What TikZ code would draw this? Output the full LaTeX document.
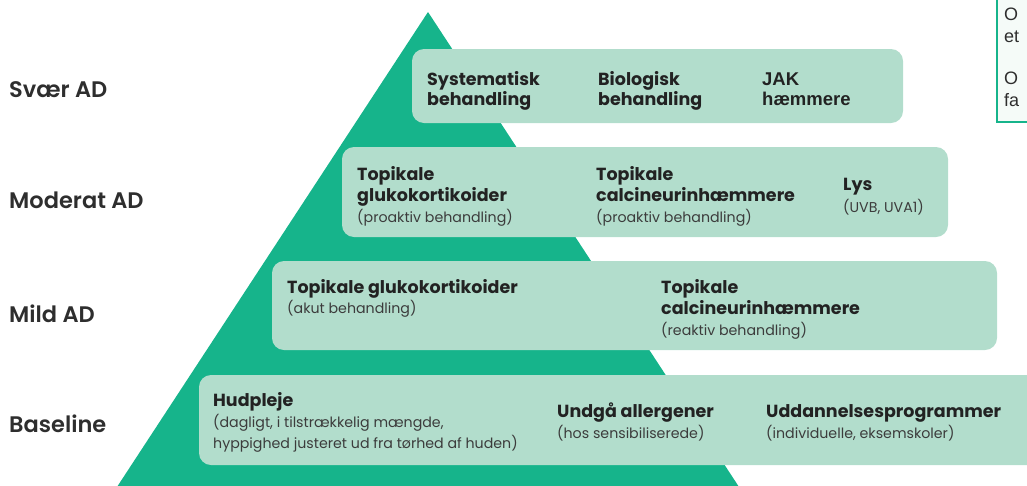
\documentclass[tikz,border=0pt]{standalone}
\usepackage{fontspec}
\setmainfont{Poppins}
\newfontfamily\arialfont{Liberation Sans}
\IfFontExistsTF{Poppins SemiBold}{\newfontfamily\labfont{Poppins SemiBold}}{\newcommand\labfont{\bfseries}}
\definecolor{tri}{HTML}{16B48B}
\definecolor{boxc}{HTML}{B2DDCC}
\definecolor{ink}{HTML}{222222}
\definecolor{subink}{HTML}{3C3C3C}
\definecolor{labink}{HTML}{2E2E2E}
\definecolor{noteb}{HTML}{F5FBF8}
\begin{document}
\begin{tikzpicture}[x=1pt,y=-1pt,
  tier/.style={fill=boxc, rounded corners=12pt},
  item/.style={anchor=base west, inner sep=0pt, text=ink, font=\fontsize{17.5}{21}\selectfont\bfseries},
  jak/.style={anchor=base west, inner sep=0pt, text=ink, font=\fontsize{18.5}{21}\selectfont\arialfont\bfseries},
  sub/.style={anchor=base west, inner sep=0pt, text=subink, font=\fontsize{14.2}{20}\selectfont},
  lvl/.style={anchor=base west, inner sep=0pt, text=labink, font=\fontsize{22.5}{26}\selectfont\labfont},
  notetext/.style={anchor=base west, inner sep=0pt, text=labink, font=\fontsize{18}{21}\selectfont\arialfont},
]
\useasboundingbox (0,0) rectangle (1027,485);

% pyramid
\fill[tri] (428,12) -- (741,490) -- (115,490) -- cycle;

% tiers
\path[tier] (412,49) rectangle (903,123);
\path[tier] (342,147) rectangle (948,237);
\path[tier] (272,261) rectangle (997,350);
\path[tier] (199,375) rectangle (1060,465);

% level labels
\node[lvl] (lsev) at (9,97) {Svær AD};
\node[lvl] (lmod) at (9,208) {Moderat AD};
\node[lvl] (lmil) at (9,322) {Mild AD};
\node[lvl] (lbas) at (9,432) {Baseline};

% severe
\node[item] (s1a) at (427,85) {Systematisk};
\node[item] (s1b) at (427,105) {behandling};
\node[item] (s2a) at (598,85) {Biologisk};
\node[item] (s2b) at (598,105) {behandling};
\node[jak] (s3a) at (762,85) {JAK};
\node[jak] (s3b) at (762,105) {hæmmere};

% moderate
\node[item] (m1a) at (357,180) {Topikale};
\node[item] (m1b) at (357,201) {glukokortikoider};
\node[sub]  (m1c) at (357,222) {(proaktiv behandling)};
\node[item] (m2a) at (596,180) {Topikale};
\node[item] (m2b) at (596,201) {calcineurinhæmmere};
\node[sub]  (m2c) at (596,222) {(proaktiv behandling)};
\node[item] (m3a) at (843,190) {Lys};
\node[sub]  (m3b) at (843,212) {(UVB, UVA1)};

% mild
\node[item] (d1a) at (287,293) {Topikale glukokortikoider};
\node[sub]  (d1b) at (287,313) {(akut behandling)};
\node[item] (d2a) at (661,293) {Topikale};
\node[item] (d2b) at (661,314) {calcineurinhæmmere};
\node[sub]  (d2c) at (661,335) {(reaktiv behandling)};

% baseline
\node[item] (b1a) at (213,406) {Hudpleje};
\node[sub]  (b1b) at (213,427) {(dagligt, i tilstrækkelig mængde,};
\node[sub]  (b1c) at (213,448) {hyppighed justeret ud fra tørhed af huden)};
\node[item] (b2a) at (557,417) {Undgå allergener};
\node[sub]  (b2b) at (557,438) {(hos sensibiliserede)};
\node[item] (b3a) at (766,417) {Uddannelsesprogrammer};
\node[sub]  (b3b) at (766,438) {(individuelle, eksemskoler)};

% note box (cut off at the right edge)
\draw[draw=tri, line width=2pt, fill=noteb] (997,-5) rectangle (1060,122);
\node[notetext] (n1) at (1004,20) {O};
\node[notetext] (n2) at (1004,42) {et};
\node[notetext] (n3) at (1004,84) {O};
\node[notetext] (n4) at (1004,106) {fa};
\end{tikzpicture}
\end{document}
